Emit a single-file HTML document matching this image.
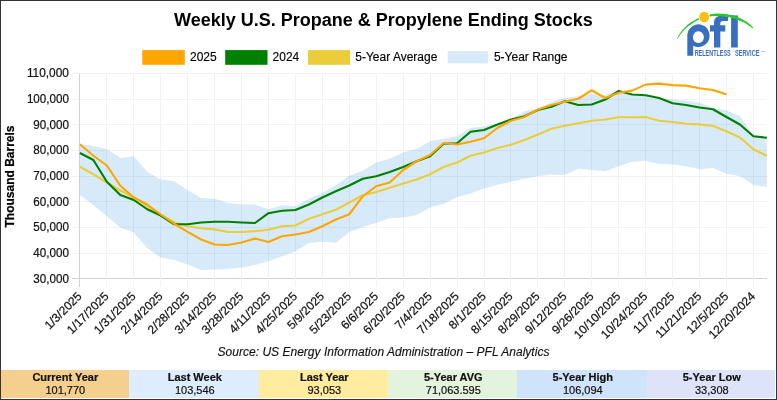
<!DOCTYPE html>
<html><head><meta charset="utf-8"><title>Weekly U.S. Propane &amp; Propylene Ending Stocks</title>
<style>
html,body{margin:0;padding:0;background:#fff;}
body{width:777px;height:400px;overflow:hidden;position:relative;font-family:"Liberation Sans",sans-serif;color:#000;}
#frame{position:absolute;left:0;top:0;width:775px;height:398px;border:1px solid #333338;pointer-events:none;}
svg{position:absolute;left:0;top:0;will-change:transform;}
svg text{font-family:"Liberation Sans",sans-serif;}
#stats{will-change:transform;position:absolute;left:0;top:370px;width:775px;height:28.4px;display:flex;}
#stats div{flex:none;text-align:center;font-size:11px;line-height:13px;padding-top:1px;padding-left:1.6px;box-sizing:border-box;color:#111;-webkit-text-stroke:0.2px #111;}
#stats b{display:block;font-size:11px;}
</style></head><body>
<svg width="777" height="400" viewBox="0 0 777 400">
<text x="383.4" y="26" text-anchor="middle" font-size="18" font-weight="bold" fill="#000">Weekly U.S. Propane &amp; Propylene Ending Stocks</text>
<g stroke="#000" stroke-width="0.15">
<rect stroke="none" x="142.3" y="50.1" width="42.5" height="14.7" fill="#ffa500"/><text x="190" y="61.3" font-size="12" fill="#000">2025</text>
<rect stroke="none" x="225.2" y="50.1" width="42.3" height="14.7" fill="#008000"/><text x="272.6" y="61.3" font-size="12" fill="#000">2024</text>
<rect stroke="none" x="308" y="50.1" width="42.1" height="14.7" fill="#ebcd3c"/><text x="355.3" y="61.3" font-size="12" fill="#000">5-Year Average</text>
<rect stroke="none" x="447.7" y="51.1" width="40.2" height="12.3" fill="#d6eafa"/><text x="493.9" y="61.3" font-size="12" fill="#000">5-Year Range</text>
</g>
<g shape-rendering="crispEdges" stroke-width="1"><line x1="71.5" y1="73.5" x2="767" y2="73.5" stroke="#f2f2f2"/><line x1="71.5" y1="99.5" x2="767" y2="99.5" stroke="#f2f2f2"/><line x1="71.5" y1="124.5" x2="767" y2="124.5" stroke="#f2f2f2"/><line x1="71.5" y1="150.5" x2="767" y2="150.5" stroke="#f2f2f2"/><line x1="71.5" y1="176.5" x2="767" y2="176.5" stroke="#f2f2f2"/><line x1="71.5" y1="201.5" x2="767" y2="201.5" stroke="#f2f2f2"/><line x1="71.5" y1="227.5" x2="767" y2="227.5" stroke="#f2f2f2"/><line x1="71.5" y1="253.5" x2="767" y2="253.5" stroke="#f2f2f2"/><line x1="71.5" y1="278.5" x2="767" y2="278.5" stroke="#d2d2d2"/><line x1="79.5" y1="73.5" x2="79.5" y2="286.5" stroke="#d2d2d2"/><line x1="106.5" y1="73.5" x2="106.5" y2="286.5" stroke="#f2f2f2"/><line x1="133.5" y1="73.5" x2="133.5" y2="286.5" stroke="#f2f2f2"/><line x1="160.5" y1="73.5" x2="160.5" y2="286.5" stroke="#f2f2f2"/><line x1="187.5" y1="73.5" x2="187.5" y2="286.5" stroke="#f2f2f2"/><line x1="214.5" y1="73.5" x2="214.5" y2="286.5" stroke="#f2f2f2"/><line x1="241.5" y1="73.5" x2="241.5" y2="286.5" stroke="#f2f2f2"/><line x1="268.5" y1="73.5" x2="268.5" y2="286.5" stroke="#f2f2f2"/><line x1="295.5" y1="73.5" x2="295.5" y2="286.5" stroke="#f2f2f2"/><line x1="322.5" y1="73.5" x2="322.5" y2="286.5" stroke="#f2f2f2"/><line x1="349.5" y1="73.5" x2="349.5" y2="286.5" stroke="#f2f2f2"/><line x1="376.5" y1="73.5" x2="376.5" y2="286.5" stroke="#f2f2f2"/><line x1="403.5" y1="73.5" x2="403.5" y2="286.5" stroke="#f2f2f2"/><line x1="430.5" y1="73.5" x2="430.5" y2="286.5" stroke="#f2f2f2"/><line x1="457.5" y1="73.5" x2="457.5" y2="286.5" stroke="#f2f2f2"/><line x1="484.5" y1="73.5" x2="484.5" y2="286.5" stroke="#f2f2f2"/><line x1="510.5" y1="73.5" x2="510.5" y2="286.5" stroke="#f2f2f2"/><line x1="537.5" y1="73.5" x2="537.5" y2="286.5" stroke="#f2f2f2"/><line x1="564.5" y1="73.5" x2="564.5" y2="286.5" stroke="#f2f2f2"/><line x1="591.5" y1="73.5" x2="591.5" y2="286.5" stroke="#f2f2f2"/><line x1="618.5" y1="73.5" x2="618.5" y2="286.5" stroke="#f2f2f2"/><line x1="645.5" y1="73.5" x2="645.5" y2="286.5" stroke="#f2f2f2"/><line x1="672.5" y1="73.5" x2="672.5" y2="286.5" stroke="#f2f2f2"/><line x1="699.5" y1="73.5" x2="699.5" y2="286.5" stroke="#f2f2f2"/><line x1="726.5" y1="73.5" x2="726.5" y2="286.5" stroke="#f2f2f2"/><line x1="753.5" y1="73.5" x2="753.5" y2="286.5" stroke="#f2f2f2"/></g>
<polygon points="79.90,143.75 93.37,146.00 106.84,149.10 120.31,158.00 133.78,156.25 147.25,172.00 160.72,179.50 174.19,181.25 187.66,190.00 201.13,198.00 214.60,198.75 228.07,203.00 241.54,204.25 255.01,204.50 268.48,209.50 281.95,205.00 295.42,206.25 308.89,198.75 322.36,192.75 335.83,185.25 349.30,175.75 362.77,170.75 376.24,162.50 389.71,158.75 403.18,152.50 416.65,148.75 430.12,141.25 443.59,138.75 457.06,136.25 470.53,128.00 484.00,126.25 497.47,123.75 510.94,119.25 524.41,111.25 537.88,108.75 551.35,102.00 564.82,97.80 578.29,96.20 591.76,93.75 605.23,95.00 618.70,91.00 632.17,94.50 645.64,95.25 659.11,97.50 672.58,99.50 686.05,100.75 699.52,102.50 712.99,108.00 726.46,110.50 739.93,116.25 753.40,135.75 766.87,137.50 766.87,186.75 753.40,185.00 739.93,176.25 726.46,173.75 712.99,168.00 699.52,169.25 686.05,166.25 672.58,164.50 659.11,163.75 645.64,160.75 632.17,161.75 618.70,166.25 605.23,171.25 591.76,170.00 578.29,168.75 564.82,175.00 551.35,174.50 537.88,176.25 524.41,178.75 510.94,181.70 497.47,184.70 484.00,188.40 470.53,193.40 457.06,197.10 443.59,203.75 430.12,207.50 416.65,215.00 403.18,217.50 389.71,218.00 376.24,223.00 362.77,227.00 349.30,232.00 335.83,242.80 322.36,241.80 308.89,243.00 295.42,251.25 281.95,256.25 268.48,261.25 255.01,265.00 241.54,267.50 228.07,269.00 214.60,269.50 201.13,270.00 187.66,264.50 174.19,260.00 160.72,257.50 147.25,248.00 133.78,232.50 120.31,227.50 106.84,216.25 93.37,205.00 79.90,195.00" fill="rgb(50,150,230)" fill-opacity="0.2"/>
<g fill="none" stroke-width="2.1" stroke-linejoin="round" stroke-linecap="butt">
<polyline points="79.90,166.75 93.37,174.25 106.84,182.50 120.31,190.50 133.78,197.50 147.25,205.75 160.72,214.50 174.19,222.50 187.66,226.25 201.13,228.25 214.60,229.40 228.07,232.00 241.54,232.00 255.01,231.10 268.48,229.75 281.95,226.25 295.42,225.50 308.89,218.75 322.36,214.25 335.83,209.75 349.30,202.50 362.77,195.25 376.24,192.00 389.71,187.75 403.18,183.50 416.65,179.50 430.12,174.25 443.59,167.00 457.06,162.50 470.53,155.75 484.00,152.50 497.47,148.00 510.94,144.75 524.41,140.00 537.88,134.50 551.35,128.75 564.82,125.75 578.29,123.25 591.76,120.75 605.23,119.50 618.70,117.25 632.17,117.25 645.64,117.10 659.11,120.75 672.58,122.00 686.05,123.75 699.52,124.40 712.99,126.00 726.46,131.25 739.93,137.50 753.40,149.25 766.87,155.90" stroke="#ebcd3c"/>
<polyline points="79.90,153.00 93.37,160.00 106.84,181.75 120.31,195.00 133.78,200.00 147.25,209.25 160.72,215.50 174.19,224.25 187.66,224.25 201.13,222.50 214.60,221.75 228.07,221.75 241.54,222.50 255.01,223.00 268.48,213.20 281.95,210.75 295.42,210.00 308.89,204.50 322.36,197.50 335.83,191.25 349.30,185.50 362.77,178.75 376.24,176.25 389.71,172.00 403.18,167.00 416.65,161.25 430.12,156.25 443.59,143.75 457.06,143.25 470.53,131.75 484.00,130.00 497.47,124.50 510.94,119.50 524.41,116.25 537.88,110.00 551.35,106.75 564.82,101.25 578.29,105.00 591.76,104.50 605.23,99.50 618.70,91.00 632.17,94.50 645.64,95.25 659.11,98.00 672.58,103.25 686.05,105.00 699.52,107.50 712.99,109.25 726.46,117.00 739.93,124.50 753.40,136.25 766.87,137.75" stroke="#008000"/>
<polyline points="79.90,144.25 93.37,155.75 106.84,165.50 120.31,185.75 133.78,197.50 147.25,204.50 160.72,214.50 174.19,223.75 187.66,231.90 201.13,239.50 214.60,244.50 228.07,245.00 241.54,242.50 255.01,238.50 268.48,242.00 281.95,236.25 295.42,234.50 308.89,232.00 322.36,226.25 335.83,219.50 349.30,214.25 362.77,196.25 376.24,186.25 389.71,182.50 403.18,170.00 416.65,161.25 430.12,155.00 443.59,143.00 457.06,144.50 470.53,141.75 484.00,138.25 497.47,128.00 510.94,120.75 524.41,117.00 537.88,109.50 551.35,105.00 564.82,101.75 578.29,98.75 591.76,90.25 605.23,98.00 618.70,92.75 632.17,90.60 645.64,84.60 659.11,83.60 672.58,85.10 686.05,85.60 699.52,88.20 712.99,90.00 726.46,94.60" stroke="#ffa500"/>
</g>
<g font-size="12" fill="#111" stroke="#111" stroke-width="0.22"><text x="68.9" y="77.20" text-anchor="end" textLength="42.0" lengthAdjust="spacingAndGlyphs">110,000</text><text x="68.9" y="102.87" text-anchor="end" textLength="42.0" lengthAdjust="spacingAndGlyphs">100,000</text><text x="68.9" y="128.54" text-anchor="end" textLength="35.6" lengthAdjust="spacingAndGlyphs">90,000</text><text x="68.9" y="154.21" text-anchor="end" textLength="35.6" lengthAdjust="spacingAndGlyphs">80,000</text><text x="68.9" y="179.88" text-anchor="end" textLength="35.6" lengthAdjust="spacingAndGlyphs">70,000</text><text x="68.9" y="205.54" text-anchor="end" textLength="35.6" lengthAdjust="spacingAndGlyphs">60,000</text><text x="68.9" y="231.21" text-anchor="end" textLength="35.6" lengthAdjust="spacingAndGlyphs">50,000</text><text x="68.9" y="256.88" text-anchor="end" textLength="35.6" lengthAdjust="spacingAndGlyphs">40,000</text><text x="68.9" y="282.55" text-anchor="end" textLength="35.6" lengthAdjust="spacingAndGlyphs">30,000</text></g>
<g font-size="12" fill="#111" stroke="#111" stroke-width="0.22"><text transform="translate(80.30,294.7) rotate(-45)" text-anchor="end" dominant-baseline="middle">1/3/2025</text><text transform="translate(107.24,294.7) rotate(-45)" text-anchor="end" dominant-baseline="middle">1/17/2025</text><text transform="translate(134.18,294.7) rotate(-45)" text-anchor="end" dominant-baseline="middle">1/31/2025</text><text transform="translate(161.12,294.7) rotate(-45)" text-anchor="end" dominant-baseline="middle">2/14/2025</text><text transform="translate(188.06,294.7) rotate(-45)" text-anchor="end" dominant-baseline="middle">2/28/2025</text><text transform="translate(215.00,294.7) rotate(-45)" text-anchor="end" dominant-baseline="middle">3/14/2025</text><text transform="translate(241.94,294.7) rotate(-45)" text-anchor="end" dominant-baseline="middle">3/28/2025</text><text transform="translate(268.88,294.7) rotate(-45)" text-anchor="end" dominant-baseline="middle">4/11/2025</text><text transform="translate(295.82,294.7) rotate(-45)" text-anchor="end" dominant-baseline="middle">4/25/2025</text><text transform="translate(322.76,294.7) rotate(-45)" text-anchor="end" dominant-baseline="middle">5/9/2025</text><text transform="translate(349.70,294.7) rotate(-45)" text-anchor="end" dominant-baseline="middle">5/23/2025</text><text transform="translate(376.64,294.7) rotate(-45)" text-anchor="end" dominant-baseline="middle">6/6/2025</text><text transform="translate(403.58,294.7) rotate(-45)" text-anchor="end" dominant-baseline="middle">6/20/2025</text><text transform="translate(430.52,294.7) rotate(-45)" text-anchor="end" dominant-baseline="middle">7/4/2025</text><text transform="translate(457.46,294.7) rotate(-45)" text-anchor="end" dominant-baseline="middle">7/18/2025</text><text transform="translate(484.40,294.7) rotate(-45)" text-anchor="end" dominant-baseline="middle">8/1/2025</text><text transform="translate(511.34,294.7) rotate(-45)" text-anchor="end" dominant-baseline="middle">8/15/2025</text><text transform="translate(538.28,294.7) rotate(-45)" text-anchor="end" dominant-baseline="middle">8/29/2025</text><text transform="translate(565.22,294.7) rotate(-45)" text-anchor="end" dominant-baseline="middle">9/12/2025</text><text transform="translate(592.16,294.7) rotate(-45)" text-anchor="end" dominant-baseline="middle">9/26/2025</text><text transform="translate(619.10,294.7) rotate(-45)" text-anchor="end" dominant-baseline="middle">10/10/2025</text><text transform="translate(646.04,294.7) rotate(-45)" text-anchor="end" dominant-baseline="middle">10/24/2025</text><text transform="translate(672.98,294.7) rotate(-45)" text-anchor="end" dominant-baseline="middle">11/7/2025</text><text transform="translate(699.92,294.7) rotate(-45)" text-anchor="end" dominant-baseline="middle">11/21/2025</text><text transform="translate(726.86,294.7) rotate(-45)" text-anchor="end" dominant-baseline="middle">12/5/2025</text><text transform="translate(753.80,294.7) rotate(-45)" text-anchor="end" dominant-baseline="middle">12/20/2024</text></g>
<text transform="translate(13.8,176.5) rotate(-90)" text-anchor="middle" font-size="12" font-weight="bold" fill="#000" stroke="#000" stroke-width="0.25">Thousand Barrels</text>
<text x="217.6" y="355.5" textLength="331.8" lengthAdjust="spacing" font-size="12" font-style="italic" fill="#111" stroke="#111" stroke-width="0.15">Source: US Energy Information Administration – PFL Analytics</text>
<g id="logo">
<path d="M687.3,55.7 V35.6 A11.15,11.4 0 1 1 693.2,45.8 V55.7 Z M698.4,31.2 a5.45,5.95 0 1 0 0.01,0 Z" fill="#3a6ebe" fill-rule="evenodd"/>
<path d="M714,47.5 V31.6 H710 V25.2 H714 V23 Q714,15.4 722,15.4 H728 V21 H723 Q720.3,21 720.3,24 V25.2 H725.3 V31.6 H720.3 V47.5 Z" fill="#3a6ebe"/>
<rect x="731.1" y="15.4" width="6.7" height="32.1" fill="#3a6ebe"/>
<path d="M677.0,38.8 C681,30.3 688,22.8 698.8,18.1 L699.3,19.5 C689,24.2 682,31.2 677.4,39.1 Z" fill="#27c827"/>
<path d="M709.5,14.4 C722,11.9 742,15 753.6,28 L752.9,28.6 C741,18.2 723,15 709.8,16.4 Z" fill="#27c827"/>
<ellipse cx="704.2" cy="17" rx="4.95" ry="5.25" fill="#fabf0f"/>
<text x="694.7" y="55.8" font-size="8.2" font-weight="bold" fill="#3a6ebe" textLength="36" lengthAdjust="spacingAndGlyphs">RELENTLESS</text>
<text x="735" y="55.8" font-size="8.2" font-weight="bold" fill="#3a6ebe" textLength="24.4" lengthAdjust="spacingAndGlyphs">SERVICE</text>
<text x="760.9" y="52.1" font-size="2.5" font-weight="bold" fill="#6a90cf">TM</text>
</g>
</svg>
<div id="stats">
<div style="background:#f4cf8d;width:129px"><b>Current Year</b>101,770</div>
<div style="background:#deedfe;width:130px"><b>Last Week</b>103,546</div>
<div style="background:#ffec9f;width:129px"><b>Last Year</b>93,053</div>
<div style="background:#e3f3de;width:129px"><b>5-Year AVG</b>71,063.595</div>
<div style="background:#cfe3fa;width:130px"><b>5-Year High</b>106,094</div>
<div style="background:#dfe3f9;width:128px"><b>5-Year Low</b>33,308</div>
</div>
<div id="frame"></div>
</body></html>
